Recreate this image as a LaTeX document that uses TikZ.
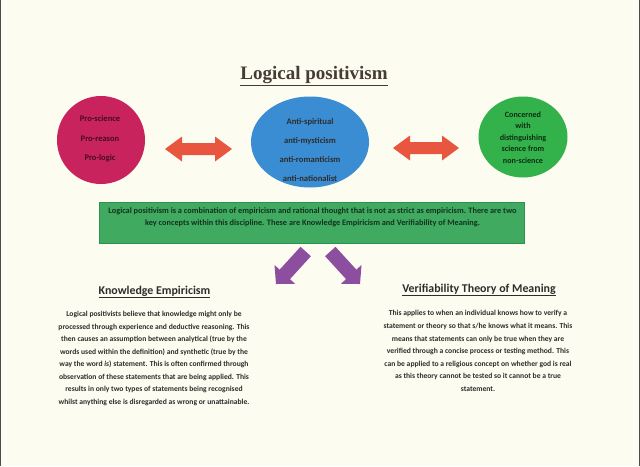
\documentclass[tikz,border=0pt]{standalone}
\usepackage{fontspec}
\setmainfont{Carlito}
\newfontfamily\titlefont{Liberation Serif}
\usetikzlibrary{shapes.geometric}
\definecolor{bgc}{HTML}{FDFCF0}
\definecolor{pinkc}{HTML}{C8235C}
\definecolor{bluec}{HTML}{3A8DD3}
\definecolor{greenc}{HTML}{33B24C}
\definecolor{rectc}{HTML}{3FAA60}
\definecolor{rectb}{HTML}{2E9050}
\definecolor{redc}{HTML}{E9563F}
\definecolor{purc}{HTML}{8C4E9E}
\definecolor{txtc}{HTML}{2E2C2C}
\definecolor{titc}{HTML}{453C36}
\tikzset{
  blob/.style={inner sep=0pt, draw=none},
  lbl/.style={inner sep=0pt, align=center, text=txtc, font=\fontsize{8.5}{19.5}\selectfont\bfseries},
  body/.style={inner sep=0pt, align=center, text=txtc, font=\fontsize{7.6}{12.55}\selectfont\bfseries},
  head/.style={inner sep=0pt, text=txtc, font=\fontsize{11.9}{13}\selectfont\bfseries},
  redarrow/.style={fill=redc},
  purarrow/.style={fill=purc},
}
\begin{document}
\begin{tikzpicture}[x=1pt,y=-1pt]
\useasboundingbox (0,0) rectangle (640,466);
\fill[bgc] (0,0) rectangle (640,466);
\draw[line width=1pt, black!70] (0.5,0) -- (0.5,466);
\draw[line width=1pt, black!70] (639.5,0) -- (639.5,466);

% title
\node[inner sep=0pt, text=titc, font=\titlefont\fontsize{19}{21}\selectfont\bfseries] (title) at (314,76) {\underline{Logical positivism}};

% circles
\node[blob, circle, fill=pinkc, minimum size=88pt] (pro) at (101,140) {};
\node[lbl, text=pinkc!35!black] (protext) at (100,139) {Pro-science\\Pro-reason\\Pro-logic};

\node[blob, ellipse, fill=bluec, minimum width=118pt, minimum height=91pt] (anti) at (310,142) {};
\node[lbl, font=\fontsize{8.6}{19}\selectfont\bfseries] (antitext) at (310,150) {Anti-spiritual\\anti-mysticism\\anti-romanticism\\anti-nationalist};

\node[blob, ellipse, fill=greenc, minimum width=89pt, minimum height=81pt] (sci) at (523,137) {};
\node[lbl, font=\fontsize{8.1}{11.5}\selectfont\bfseries, text=greenc!25!black] (scitext) at (523,137.5) {Concerned\\with\\distinguishing\\science from\\non-science};

% red double arrows
\fill[redarrow] (165,149) -- (182,136.5) -- (182,143) -- (215,143) -- (215,136.5) -- (232,149) -- (215,161.5) -- (215,155) -- (182,155) -- (182,161.5) -- cycle;
\fill[redarrow] (393,148) -- (410,135.5) -- (410,142) -- (442,142) -- (442,135.5) -- (459,148) -- (442,160.5) -- (442,154) -- (410,154) -- (410,160.5) -- cycle;

% green box
\node[blob, rectangle, fill=rectc, draw=rectb, line width=0.6pt, minimum width=425pt, minimum height=41pt] (box) at (311.5,222.5) {};
\node[lbl, font=\fontsize{8.3}{11.5}\selectfont\bfseries, text=rectc!30!black] (boxtext) at (312.5,217.5) {Logical positivism is a combination of empiricism and rational thought that is not as strict as empiricism. There are two\\key concepts within this discipline. These are Knowledge Empiricism and Verifiability of Meaning.};

% purple arrows
\fill[purarrow] (276,284) -- (274.5,264.9) -- (279.6,269.7) -- (300.5,246.8) -- (310.9,256.2) -- (290.0,279.1) -- (295.1,283.9) -- cycle;
\fill[purarrow] (360,284) -- (361.5,264.9) -- (356.4,269.7) -- (335.5,246.8) -- (325.1,256.2) -- (346.0,279.1) -- (340.9,283.9) -- cycle;

% headings and bodies
\node[head] (keh) at (154.5,292) {\underline{Knowledge Empiricism}};
\node[body] (keb) at (154,358.5) {Logical positivists believe that knowledge might only be\\processed through experience and deductive reasoning. This\\then causes an assumption between analytical (true by the\\words used within the definition) and synthetic (true by the\\way the word \textit{is}) statement. This is often confirmed through\\observation of these statements that are being applied. This\\results in only two types of statements being recognised\\whilst anything else is disregarded as wrong or unattainable.};

\node[head] (vth) at (479,290) {\underline{Verifiability Theory of Meaning}};
\node[body] (vtb) at (478,351) {This applies to when an individual knows how to verify a\\statement or theory so that s/he knows what it means. This\\means that statements can only be true when they are\\verified through a concise process or testing method. This\\can be applied to a religious concept on whether god is real\\as this theory cannot be tested so it cannot be a true\\statement.};
\end{tikzpicture}
\end{document}
